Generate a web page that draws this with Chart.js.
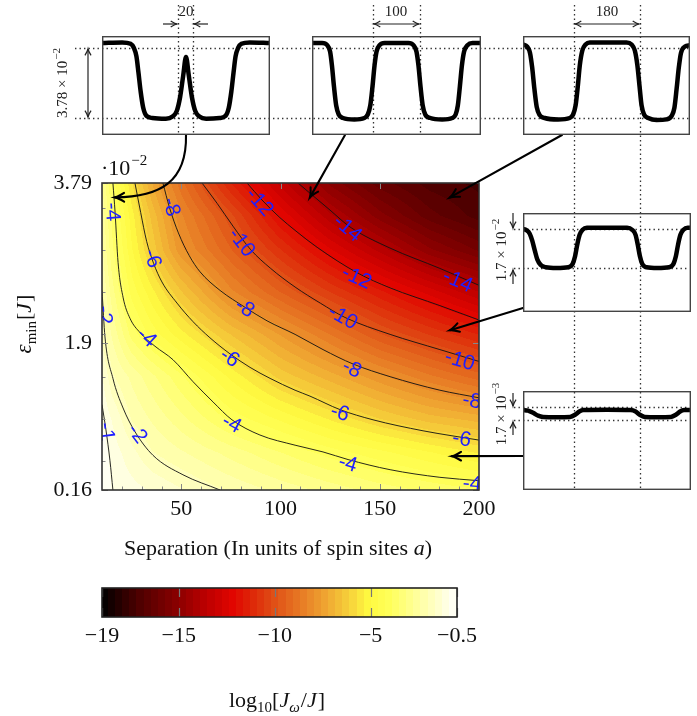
<!DOCTYPE html>
<html><head><meta charset="utf-8">
<script src="https://cdn.jsdelivr.net/npm/chart.js@4.4.0/dist/chart.umd.min.js"></script>
<style>
html,body{margin:0;padding:0;background:#fff;}
#wrap{position:relative;width:697px;height:716px;overflow:hidden;background:#fff;}
canvas{position:absolute;}
</style></head><body>
<div id="wrap">
<canvas id="main" width="697" height="716" style="left:0;top:0"></canvas>
<canvas id="cbar" width="697" height="146" style="left:0;top:570px"></canvas>
<canvas id="in1" width="168" height="99" style="left:102px;top:36px"></canvas>
<canvas id="in2" width="169" height="99" style="left:312px;top:36px"></canvas>
<canvas id="in3" width="167" height="99" style="left:523px;top:36px"></canvas>
<canvas id="in4" width="168" height="99" style="left:523px;top:213px"></canvas>
<canvas id="in5" width="168" height="99" style="left:523px;top:391px"></canvas>
</div>
<script>
// ---------------- DATA ----------------
// Heat map grid: log10(J_w/J) at separation (columns) x eps_min (rows, in 1e-2 J)
const sepGrid = [10, 15, 25, 35, 50, 75, 100, 125, 150, 175, 200];
const epsGrid = [0.16, 0.6, 1.0, 1.5, 2.0, 2.5, 3.0, 3.4, 3.79];
const logJ_eps016 = [-0.5, -0.95, -1.15, -1.33, -1.63, -2.1, -2.52, -2.92, -3.3, -3.6, -3.85];
const logJ_eps060 = [-0.7, -1.07, -1.54, -2.0, -2.35, -2.92, -3.5, -4.05, -4.5, -4.95, -5.4];
const logJ_eps100 = [-0.95, -1.32, -2.06, -2.45, -3.03, -4.0, -4.7, -5.41, -6.1, -6.65, -7.0];
const logJ_eps150 = [-1.25, -1.95, -2.5, -3.03, -3.81, -5.09, -6.23, -7.03, -7.84, -8.6, -9.25];
const logJ_eps200 = [-1.75, -2.45, -3.66, -4.4, -5.23, -6.49, -7.62, -8.7, -9.78, -10.57, -11.3];
const logJ_eps250 = [-1.98, -2.97, -4.4, -5.23, -6.44, -8.22, -9.45, -10.55, -11.55, -12.54, -13.5];
const logJ_eps300 = [-2.3, -3.4, -4.95, -6.2, -7.87, -9.41, -10.9, -12.34, -13.64, -14.9, -15.8];
const logJ_eps340 = [-2.5, -3.6, -5.2, -6.57, -8.26, -10.06, -12.07, -13.77, -15.18, -16.3, -17.0];
const logJ_eps379 = [-2.7, -3.9, -5.7, -7.19, -8.94, -11.3, -13.3, -15.1, -16.3, -17.0, -17.3];

// Contour lines (separation, eps_min)
const contourLevels = [-1, -2, -4, -6, -8, -10, -12, -14];
const contour_m1 = [[10,1.17],[12,0.87],[14,0.51],[15.5,0.16]];
const contour_m2 = [[10,2.52],[11.5,1.97],[15.5,1.48],[20.6,1.13],[26.6,0.85],[35.7,0.57],[50.8,0.34],[69.5,0.16]];
const contour_m4 = [[15.5,3.79],[16.6,3.44],[18.1,2.85],[20.6,2.44],[24.1,2.19],[29.2,2.02],[36.7,1.86],[45.8,1.70],[55.9,1.44],[66.0,1.20],[75.5,0.99],[89.6,0.81],[107.3,0.69],[121.4,0.61],[134.0,0.52],[155.2,0.40],[180.3,0.31],[200,0.27]];
const contour_m6 = [[26.6,3.79],[29.5,3.44],[32.5,3.1],[36,2.84],[40.2,2.62],[47.8,2.37],[55.9,2.15],[64.4,1.96],[74.5,1.77],[84.6,1.61],[94.7,1.48],[107.3,1.34],[114.8,1.27],[130.0,1.11],[146.6,0.99],[171.8,0.86],[200,0.75]];
const contour_m8 = [[40.7,3.79],[44,3.5],[48.5,3.2],[54,2.93],[59.4,2.74],[69.5,2.52],[82.1,2.32],[93.2,2.16],[107.3,2.0],[121.4,1.82],[136.5,1.65],[155.2,1.50],[180.3,1.34],[200,1.25]];
const contour_m10 = [[60.4,3.79],[68,3.55],[76,3.28],[85,3.0],[95,2.78],[107.3,2.56],[120,2.37],[132.5,2.2],[155.2,2.0],[180.3,1.82],[200,1.68]];
const contour_m12 = [[83.1,3.79],[90.6,3.59],[99.7,3.38],[107.3,3.23],[118.4,3.03],[138.5,2.73],[155.2,2.55],[180.3,2.34],[200,2.17]];
const contour_m14 = [[108.8,3.79],[115.8,3.65],[124.9,3.47],[135.0,3.27],[155.2,3.02],[180.3,2.78],[200,2.58]];

// Contour labels: [level, separation, eps_min]
const contourLabels = [
  [-4,15.5,3.45],[-6,35.7,2.90],[-8,45.3,3.51],[-10,80.6,3.09],[-12,89.6,3.57],[-8,82.1,2.32],
  [-2,11.5,2.23],[-4,32.7,1.97],[-1,12.5,0.85],[-2,28.1,0.83],[-4,75.5,0.95],[-6,74.5,1.73],
  [-14,134.0,3.26],[-12,138.5,2.68],[-10,131.5,2.21],[-14,189.4,2.64],[-8,136.0,1.60],[-6,130.0,1.08],
  [-4,134.0,0.48],[-10,190.4,1.70],[-8,196.5,1.22],[-6,191.4,0.77],[-4,196.5,0.24]
];

// Axis ticks
const xTickValues = [50, 100, 150, 200];
const yTickValues = [0.16, 1.9, 3.79];
const yTickLabels = ['0.16', '1.9', '3.79'];
const cbarTickValues = [-19, -15, -10, -5, -0.5];
const cbarTickLabels = ['\u221219', '\u221215', '\u221210', '\u22125', '\u22120.5'];

// Colour map of the colour bar
const cmapVals = [-19, -17, -15, -13.5, -12.2, -11, -10, -8.8, -7.5, -6.2, -5.1, -4, -2.7, -1.5, -0.5];
const cmapColors = [[0,0,0],[80,0,0],[140,0,0],[190,0,0],[225,5,0],[222,45,10],[224,80,22],[230,118,35],[238,160,48],[246,205,58],[255,250,64],[255,255,90],[255,255,150],[255,255,205],[255,255,255]];

// Inset energy profiles (position 0-100 across box, energy in units of the dotted-level gap)
const prof20X = [0,12,17,19,20.5,21.7,23,24.5,26.5,30,38,42,44.5,46.5,48.3,50,51.7,53.5,55.5,58,62,70,73.5,75.5,77,78.3,79.5,81,83,88,100];
const prof20Y = [1.07,1.08,1.06,1.0,0.88,0.65,0.38,0.15,0.03,0.0,-0.01,0.02,0.1,0.3,0.6,0.87,0.6,0.3,0.1,0.02,-0.01,0.0,0.03,0.15,0.38,0.65,0.88,1.0,1.06,1.08,1.07];
const prof100X = [0,6,9,10.7,11.8,13,14.3,15.8,18.3,25,31,33,34.5,35.8,37,38.2,40,43,57,60,61.8,63,64.2,65.5,67,70,77,83,85,86.3,87.5,88.7,90,92,95,100];
const prof100Y = [1.07,1.07,1.04,0.95,0.75,0.45,0.18,0.05,0.0,-0.02,0.0,0.05,0.18,0.45,0.75,0.95,1.04,1.07,1.07,1.04,0.95,0.75,0.45,0.18,0.05,0.0,-0.02,0.0,0.05,0.18,0.45,0.75,0.95,1.04,1.07,1.07];
const prof180X = [0,2.5,4.2,5.5,6.8,8.2,10,13,21,28,30,31.5,32.8,34,35.5,37.5,40,62,65,67,68.5,69.8,71,72.5,75,80,86,89,90.7,92,93.3,94.6,97,100];
const prof180Y = [1.05,1.02,0.93,0.72,0.42,0.16,0.04,0.0,-0.02,0.0,0.05,0.18,0.45,0.75,0.96,1.05,1.08,1.08,1.05,0.96,0.75,0.45,0.18,0.05,0.0,-0.03,-0.02,0.03,0.15,0.42,0.72,0.93,1.02,1.04];
const prof180bX = [0,2,4,5.5,7,8.5,10.5,13.5,20,27,29.5,31,32.3,33.7,35.5,38,62,65,67,68.3,69.6,71,73.5,80,87,89.5,91,92.3,93.7,95.5,98,100];
const prof180bY = [1.0,0.97,0.88,0.7,0.45,0.22,0.08,0.02,0.0,0.02,0.1,0.3,0.6,0.85,0.98,1.03,1.03,0.98,0.85,0.6,0.3,0.1,0.02,0.0,0.02,0.1,0.3,0.6,0.85,0.98,1.03,1.03];
const prof180cX = [0,3,6,9,12,20,28,31,33.5,36,50,64,67,69.5,72.5,80,88,91,93.5,96,100];
const prof180cY = [0.77,0.72,0.55,0.33,0.24,0.22,0.24,0.4,0.65,0.76,0.78,0.76,0.65,0.4,0.24,0.22,0.24,0.4,0.65,0.76,0.77];

// Arrow tips in the main plot (separation, eps_min)
const arrowTips = [[16.6,3.62],[114.8,3.62],[185.4,3.62],[185.4,2.05],[186.4,0.56]];

// ---------------- HELPERS ----------------
const SERIF = '"Liberation Serif","DejaVu Serif",serif';
const SANS = '"Liberation Sans","DejaVu Sans",sans-serif';
const logJRows = [logJ_eps016, logJ_eps060, logJ_eps100, logJ_eps150, logJ_eps200, logJ_eps250, logJ_eps300, logJ_eps340, logJ_eps379];
const contourData = [contour_m1, contour_m2, contour_m4, contour_m6, contour_m8, contour_m10, contour_m12, contour_m14];

function locate(arr, v){
  if (v <= arr[0]) return [0, 0];
  for (let i = 0; i < arr.length - 1; i++) {
    if (v <= arr[i+1]) return [i, (v - arr[i]) / (arr[i+1] - arr[i])];
  }
  return [arr.length - 2, 1];
}
function gridValue(sep, eps){
  const [i, tx] = locate(sepGrid, sep);
  const [j, ty] = locate(epsGrid, eps);
  const a = logJRows[j][i], b = logJRows[j][i+1], c = logJRows[j+1][i], d = logJRows[j+1][i+1];
  return (a*(1-tx) + b*tx)*(1-ty) + (c*(1-tx) + d*tx)*ty;
}
function cmap(v){
  v = Math.max(cmapVals[0], Math.min(cmapVals[cmapVals.length-1], v));
  const [i, t] = locate(cmapVals, v);
  const c0 = cmapColors[i], c1 = cmapColors[i+1];
  return [0,1,2].map(k => Math.round(c0[k] + (c1[k]-c0[k])*t));
}
const STEP = 18.5/50;
function quant(v){ return Math.round(v/STEP)*STEP; }

function richWidth(ctx, parts){
  let w = 0;
  for (const p of parts){ ctx.font = p.f; w += ctx.measureText(p.t).width + (p.pre||0) + (p.post||0); }
  return w;
}
function drawRich(ctx, parts, x, y, align){
  const w = richWidth(ctx, parts);
  let cx = align === 'center' ? x - w/2 : (align === 'right' ? x - w : x);
  ctx.textAlign = 'left'; ctx.textBaseline = 'alphabetic';
  for (const p of parts){
    ctx.font = p.f; cx += (p.pre||0);
    ctx.fillText(p.t, cx, y + (p.dy||0));
    cx += ctx.measureText(p.t).width + (p.post||0);
  }
}
function head(ctx, x, y, ang, size){
  const a = 0.45;
  ctx.beginPath();
  ctx.moveTo(x - size*Math.cos(ang - a), y - size*Math.sin(ang - a));
  ctx.quadraticCurveTo(x - size*0.35*Math.cos(ang - a*0.5), y - size*0.35*Math.sin(ang - a*0.5), x, y);
  ctx.quadraticCurveTo(x - size*0.35*Math.cos(ang + a*0.5), y - size*0.35*Math.sin(ang + a*0.5), x - size*Math.cos(ang + a), y - size*Math.sin(ang + a));
  ctx.stroke();
}
function arrow(ctx, x1, y1, x2, y2, both, size){
  ctx.beginPath(); ctx.moveTo(x1, y1); ctx.lineTo(x2, y2); ctx.stroke();
  const ang = Math.atan2(y2-y1, x2-x1);
  head(ctx, x2, y2, ang, size);
  if (both) head(ctx, x1, y1, ang + Math.PI, size);
}
function dotted(ctx, x1, y1, x2, y2){
  ctx.save();
  ctx.setLineDash([1.4, 3.1]);
  ctx.lineWidth = 1.3; ctx.strokeStyle = '#333';
  ctx.beginPath(); ctx.moveTo(x1, y1); ctx.lineTo(x2, y2); ctx.stroke();
  ctx.restore();
}

// ---------------- MAIN CHART ----------------
const heatPlugin = {
  id: 'heat',
  beforeDatasetsDraw(chart){
    const {ctx, chartArea: ca, scales: {x, y}} = chart;
    const w = Math.round(ca.right - ca.left), h = Math.round(ca.bottom - ca.top);
    const img = ctx.createImageData(w, h);
    for (let py = 0; py < h; py++){
      const eps = y.getValueForPixel(ca.top + py + 0.5);
      for (let px = 0; px < w; px++){
        const sep = x.getValueForPixel(ca.left + px + 0.5);
        const c = cmap(quant(gridValue(sep, eps)));
        const k = (py*w + px)*4;
        img.data[k] = c[0]; img.data[k+1] = c[1]; img.data[k+2] = c[2]; img.data[k+3] = 255;
      }
    }
    ctx.putImageData(img, Math.round(ca.left), Math.round(ca.top));
  }
};

const decorPlugin = {
  id: 'decor',
  afterDatasetsDraw(chart){
    const {ctx, chartArea: ca, scales: {x, y}} = chart;
    // contour labels
    ctx.save();
    ctx.beginPath(); ctx.rect(ca.left, ca.top, ca.right-ca.left, ca.bottom-ca.top); ctx.clip();
    ctx.fillStyle = '#1f1fff';
    ctx.font = `21px ${SANS}`;
    ctx.textAlign = 'center'; ctx.textBaseline = 'middle';
    for (const [lev, s, e] of contourLabels){
      const px = x.getPixelForValue(s), py = y.getPixelForValue(e);
      const pts = contourData[contourLevels.indexOf(lev)].map(([a,b]) => [x.getPixelForValue(a), y.getPixelForValue(b)]);
      let best = 1e9, ang = 0;
      for (let i = 0; i < pts.length-1; i++){
        const mx = (pts[i][0]+pts[i+1][0])/2, my = (pts[i][1]+pts[i+1][1])/2;
        const d = (mx-px)**2 + (my-py)**2;
        if (d < best){ best = d; ang = Math.atan2(pts[i+1][1]-pts[i][1], pts[i+1][0]-pts[i][0]); }
      }
      if (ang > Math.PI/2) ang -= Math.PI;
      if (ang < -Math.PI/2) ang += Math.PI;
      ctx.save(); ctx.translate(px, py); ctx.rotate(ang);
      ctx.fillText(String(lev), 0, 1);
      ctx.restore();
    }
    ctx.restore();
    // ticks
    ctx.save();
    ctx.strokeStyle = '#888'; ctx.lineWidth = 1;
    for (let v = 20; v < 200; v += 10){
      const px = Math.round(x.getPixelForValue(v)) + 0.5;
      const len = xTickValues.includes(v) ? 6 : 3.5;
      ctx.beginPath(); ctx.moveTo(px, ca.bottom); ctx.lineTo(px, ca.bottom - len); ctx.stroke();
      if (xTickValues.includes(v)){ ctx.beginPath(); ctx.moveTo(px, ca.top); ctx.lineTo(px, ca.top + len); ctx.stroke(); }
    }
    for (let v = 0.5; v < 3.79; v += 0.5){
      const py = Math.round(y.getPixelForValue(v)) + 0.5;
      ctx.beginPath(); ctx.moveTo(ca.left, py); ctx.lineTo(ca.left + 3.5, py); ctx.stroke();
    }
    for (const v of yTickValues){
      const py = Math.round(y.getPixelForValue(v)) + 0.5;
      ctx.beginPath(); ctx.moveTo(ca.left, py); ctx.lineTo(ca.left + 6, py); ctx.stroke();
      ctx.beginPath(); ctx.moveTo(ca.right, py); ctx.lineTo(ca.right - 6, py); ctx.stroke();
    }
    ctx.restore();
    // frame
    ctx.save();
    ctx.strokeStyle = '#333'; ctx.lineWidth = 1.6;
    ctx.strokeRect(ca.left, ca.top, ca.right-ca.left, ca.bottom-ca.top);
    ctx.restore();
  },
  afterDraw(chart){
    const {ctx, scales: {x, y}} = chart;
    ctx.save();
    ctx.fillStyle = '#111';
    // axis titles
    drawRich(ctx, [{t:'Separation (In units of spin sites ', f:`22px ${SERIF}`},{t:'a', f:`italic 22px ${SERIF}`},{t:')', f:`22px ${SERIF}`}], 278, 555, 'center');
    ctx.save(); ctx.translate(31, 324); ctx.rotate(-Math.PI/2);
    drawRich(ctx, [{t:'\u03b5', f:`italic 23px ${SERIF}`},{t:'min', f:`15px ${SERIF}`, dy:5, post:1},{t:'[', f:`22px ${SERIF}`},{t:'J', f:`italic 22px ${SERIF}`, post:1},{t:']', f:`22px ${SERIF}`}], 0, 0, 'center');
    ctx.restore();
    drawRich(ctx, [{t:'\u00b710', f:`22px ${SERIF}`},{t:'\u22122', f:`15px ${SERIF}`, dy:-10, pre:1}], 101, 175, 'left');

    // dotted guide lines of insets
    dotted(ctx, 75, 48.5, 691, 48.5);
    dotted(ctx, 75, 118.5, 691, 118.5);
    dotted(ctx, 178.5, 5, 178.5, 135);
    dotted(ctx, 193.5, 5, 193.5, 135);
    dotted(ctx, 373.5, 5, 373.5, 135);
    dotted(ctx, 420.5, 5, 420.5, 135);
    dotted(ctx, 574.5, 5, 574.5, 490);
    dotted(ctx, 640.5, 5, 640.5, 490);
    dotted(ctx, 514, 229.5, 688, 229.5);
    dotted(ctx, 514, 268.5, 688, 268.5);
    dotted(ctx, 514, 407.5, 688, 407.5);
    dotted(ctx, 514, 420.5, 688, 420.5);

    // inset annotations
    ctx.strokeStyle = '#222'; ctx.lineWidth = 1.2; ctx.setLineDash([]);
    arrow(ctx, 163, 24, 177, 24, false, 7);
    arrow(ctx, 208, 24, 194, 24, false, 7);
    arrow(ctx, 374, 24, 419, 24, true, 7);
    arrow(ctx, 575, 24, 639, 24, true, 7);
    arrow(ctx, 88, 49, 88, 117, true, 7);
    arrow(ctx, 513, 213, 513, 228, false, 7);
    arrow(ctx, 513, 284, 513, 270, false, 7);
    arrow(ctx, 513, 393, 513, 406, false, 7);
    arrow(ctx, 513, 435, 513, 422, false, 7);
    ctx.fillStyle = '#222';
    ctx.textAlign = 'center'; ctx.textBaseline = 'alphabetic';
    ctx.font = `15px ${SERIF}`;
    ctx.fillText('20', 186, 16);
    ctx.fillText('100', 396, 16);
    ctx.fillText('180', 607, 16);
    const rot = (cx, cy, parts) => { ctx.save(); ctx.translate(cx, cy); ctx.rotate(-Math.PI/2); drawRich(ctx, parts, 0, 0, 'center'); ctx.restore(); };
    rot(67, 83, [{t:'3.78 \u00d7 10', f:`15px ${SERIF}`},{t:'\u22122', f:`11px ${SERIF}`, dy:-7, pre:1}]);
    rot(506, 250, [{t:'1.7 \u00d7 10', f:`15px ${SERIF}`},{t:'\u22122', f:`11px ${SERIF}`, dy:-7, pre:1}]);
    rot(506, 414, [{t:'1.7 \u00d7 10', f:`15px ${SERIF}`},{t:'\u22123', f:`11px ${SERIF}`, dy:-7, pre:1}]);

    // arrows from insets to the map
    ctx.strokeStyle = '#000'; ctx.lineWidth = 2.1; ctx.lineCap = 'round';
    const tip = arrowTips.map(([s, e]) => [x.getPixelForValue(s), y.getPixelForValue(e)]);
    ctx.beginPath(); ctx.moveTo(186, 135);
    ctx.bezierCurveTo(187, 182, 160, 197, tip[0][0], tip[0][1]); ctx.stroke();
    head(ctx, tip[0][0], tip[0][1], Math.atan2(tip[0][1]-197, tip[0][0]-160), 10);
    arrow(ctx, 345, 135, tip[1][0], tip[1][1], false, 10);
    arrow(ctx, 562, 135, tip[2][0], tip[2][1], false, 10);
    arrow(ctx, 523, 308, tip[3][0], tip[3][1], false, 10);
    arrow(ctx, 523, 456, tip[4][0], tip[4][1], false, 10);
    ctx.restore();
  }
};

const contourDatasets = contourData.map((pts, i) => ({
  label: String(contourLevels[i]),
  data: pts.map(([a, b]) => ({x: a, y: b})),
  borderColor: '#111', borderWidth: 0.9, pointRadius: 0,
  cubicInterpolationMode: 'monotone', fill: false
}));

new Chart(document.getElementById('main'), {
  type: 'line',
  data: {datasets: contourDatasets},
  options: {
    responsive: false, animation: false, devicePixelRatio: 1, events: [],
    layout: {padding: {left: 0, top: 183, right: 218, bottom: 156}},
    plugins: {legend: {display: false}, tooltip: {enabled: false}},
    scales: {
      x: {
        type: 'linear', min: 10, max: 200, position: 'bottom',
        afterFit: s => { s.height = 70; },
        afterBuildTicks: s => { s.ticks = xTickValues.map(v => ({value: v})); },
        ticks: {font: {family: SERIF, size: 22}, color: '#111', padding: 6, maxRotation: 0, autoSkip: false, callback: v => String(v)},
        grid: {display: false, drawTicks: false}, border: {display: false}
      },
      y: {
        type: 'linear', min: 0.16, max: 3.79, position: 'left',
        afterFit: s => { s.width = 102; },
        afterBuildTicks: s => { s.ticks = yTickValues.map(v => ({value: v})); },
        ticks: {font: {family: SERIF, size: 22}, color: '#111', padding: 10, autoSkip: false,
          callback: v => yTickLabels[yTickValues.indexOf(v)] ?? String(v)},
        grid: {display: false, drawTicks: false}, border: {display: false}
      }
    }
  },
  plugins: [heatPlugin, decorPlugin]
});

// ---------------- COLOUR BAR ----------------
const cbarPlugin = {
  id: 'cbarfill',
  beforeDatasetsDraw(chart){
    const {ctx, chartArea: ca, scales: {x}} = chart;
    for (let px = Math.floor(ca.left); px < ca.right; px++){
      const c = cmap(quant(x.getValueForPixel(px + 0.5)));
      ctx.fillStyle = `rgb(${c[0]},${c[1]},${c[2]})`;
      ctx.fillRect(px, ca.top, 1, ca.bottom - ca.top);
    }
    ctx.save();
    ctx.strokeStyle = '#777'; ctx.lineWidth = 1.2;
    for (const v of cbarTickValues){
      const px = Math.round(x.getPixelForValue(v)) + 0.5;
      ctx.beginPath(); ctx.moveTo(px, ca.top); ctx.lineTo(px, ca.top + 9); ctx.stroke();
      ctx.beginPath(); ctx.moveTo(px, ca.bottom); ctx.lineTo(px, ca.bottom - 9); ctx.stroke();
    }
    ctx.strokeStyle = '#222'; ctx.lineWidth = 1.6;
    ctx.strokeRect(ca.left, ca.top, ca.right - ca.left, ca.bottom - ca.top);
    ctx.fillStyle = '#111';
    drawRich(ctx, [{t:'log', f:`22px ${SERIF}`},{t:'10', f:`15px ${SERIF}`, dy:5},{t:'[', f:`22px ${SERIF}`},{t:'J', f:`italic 22px ${SERIF}`},{t:'\u03c9', f:`italic 15px ${SERIF}`, dy:5, post:1},{t:'/', f:`22px ${SERIF}`},{t:'J', f:`italic 22px ${SERIF}`, post:1},{t:']', f:`22px ${SERIF}`}], 277, 137, 'center');
    ctx.restore();
  }
};
new Chart(document.getElementById('cbar'), {
  type: 'scatter',
  data: {datasets: [{data: []}]},
  options: {
    responsive: false, animation: false, devicePixelRatio: 1, events: [],
    layout: {padding: {left: 102, top: 18, right: 240, bottom: 0}},
    plugins: {legend: {display: false}, tooltip: {enabled: false}},
    scales: {
      x: {
        type: 'linear', min: -19, max: -0.5, position: 'bottom',
        afterFit: s => { s.height = 99; },
        afterBuildTicks: s => { s.ticks = cbarTickValues.map(v => ({value: v})); },
        ticks: {font: {family: SERIF, size: 22}, color: '#111', padding: 6, maxRotation: 0, autoSkip: false,
          callback: v => cbarTickLabels[cbarTickValues.indexOf(v)] ?? String(v)},
        grid: {display: false, drawTicks: false}, border: {display: false}
      },
      y: {display: false, min: 0, max: 1}
    }
  },
  plugins: [cbarPlugin]
});

// ---------------- INSETS ----------------
const boxPlugin = {
  id: 'box',
  afterDraw(chart){
    const {ctx, width, height} = chart;
    ctx.save(); ctx.strokeStyle = '#444'; ctx.lineWidth = 1.4;
    ctx.strokeRect(0.7, 0.7, width - 1.4, height - 1.4); ctx.restore();
  }
};
function makeInset(id, xs, ys, yMin, yMax){
  new Chart(document.getElementById(id), {
    type: 'line',
    data: {datasets: [{data: xs.map((v, i) => ({x: v, y: ys[i]})), borderColor: '#000', borderWidth: 4.5,
      pointRadius: 0, cubicInterpolationMode: 'monotone', borderCapStyle: 'round', borderJoinStyle: 'round'}]},
    options: {
      responsive: false, animation: false, devicePixelRatio: 1, events: [],
      layout: {padding: 0},
      plugins: {legend: {display: false}, tooltip: {enabled: false}},
      scales: {x: {type: 'linear', min: 0, max: 100, display: false}, y: {min: yMin, max: yMax, display: false}}
    },
    plugins: [boxPlugin]
  });
}
makeInset('in1', prof20X, prof20Y, -17/70, 1 + 12/70);
makeInset('in2', prof100X, prof100Y, -17/70, 1 + 12/70);
makeInset('in3', prof180X, prof180Y, -17/70, 1 + 12/70);
makeInset('in4', prof180bX, prof180bY, -44/39, 1 + 16/39);
makeInset('in5', prof180cX, prof180cY, -70/13, 1 + 16/13);
</script>
</body></html>
